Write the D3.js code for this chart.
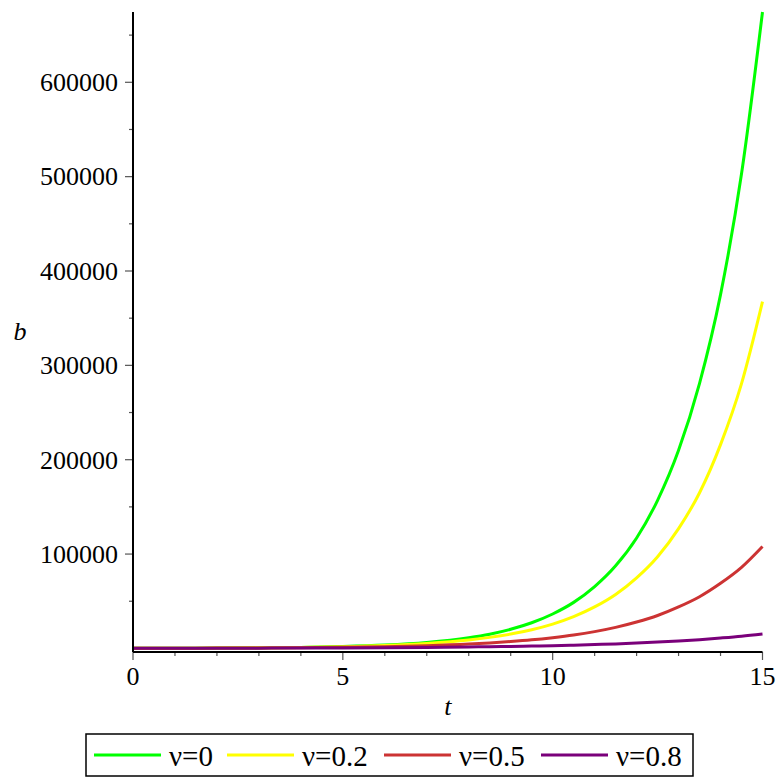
<!DOCTYPE html>
<html>
<head>
<meta charset="utf-8">
<script src="https://cdn.jsdelivr.net/npm/d3@7"></script>
<style>
  html, body { margin: 0; padding: 0; background: #ffffff; }
  svg { display: block; }
</style>
</head>
<body>
<svg id="chart" width="779" height="778"></svg>
<script>
// Time grid (t) shared by all curves; finer near the steep end
const tValues = [0, 1, 2, 3, 4, 5, 6, 7, 8, 8.5, 9, 9.5, 10, 10.5, 11, 11.5, 12, 12.5, 13, 13.5, 14, 14.5, 15];

// b(t) for each value of ν
const bNu0  = [100, 190, 340, 600, 1080, 1950, 3500, 6300, 11300, 15100, 20300, 27200, 36500, 48800, 65500, 87500, 117000, 157000, 210000, 281000, 375000, 503000, 674500];
const bNu02 = [130, 220, 375, 635, 1080, 1830, 3100, 5300, 8950, 11700, 15200, 19800, 25800, 33700, 44000, 57200, 74800, 97200, 127000, 165000, 216000, 280600, 367500];
const bNu05 = [125, 200, 310, 485, 760, 1200, 1880, 2950, 4600, 5770, 7250, 9060, 11400, 14200, 17800, 22300, 28000, 34900, 44000, 54800, 69000, 85900, 108000];
const bNu08 = [110, 150, 210, 290, 405, 565, 785, 1090, 1520, 1780, 2110, 2480, 2940, 3450, 4090, 4800, 5690, 6680, 7900, 9300, 11000, 12900, 15300];

const seriesLabels = ["ν=0", "ν=0.2", "ν=0.5", "ν=0.8"];
const seriesColors = ["#00ff00", "#ffff00", "#cc3333", "#7a007a"];
const seriesValues = [bNu0, bNu02, bNu05, bNu08];

// Axis ticks
const xMajorTicks = [0, 5, 10, 15];
const xMinorTicks = [1, 2, 3, 4, 6, 7, 8, 9, 11, 12, 13, 14];
const yMajorTicks = [100000, 200000, 300000, 400000, 500000, 600000];
const yMinorTicks = [50000, 150000, 250000, 350000, 450000, 550000, 650000];

const FONT = '"Liberation Serif", serif';
const svg = d3.select("#chart");
const fontSize = 26;

const x = d3.scaleLinear().domain([0, 15]).range([133, 762.5]);
const y = d3.scaleLinear().domain([-3800, 674500]).range([652, 12]);

// Tick marks and labels
const tickColor = "#555";
const gTicks = svg.append("g");

gTicks.selectAll("line.ymaj").data(yMajorTicks).join("line")
  .attr("x1", x(0) - 8).attr("x2", x(0))
  .attr("y1", d => y(d)).attr("y2", d => y(d))
  .attr("stroke", tickColor).attr("stroke-width", 1.2);
gTicks.selectAll("line.ymin").data(yMinorTicks).join("line")
  .attr("x1", x(0) - 4).attr("x2", x(0))
  .attr("y1", d => y(d)).attr("y2", d => y(d))
  .attr("stroke", tickColor).attr("stroke-width", 1.2);
gTicks.selectAll("line.xmaj").data(xMajorTicks).join("line")
  .attr("x1", d => x(d)).attr("x2", d => x(d))
  .attr("y1", 652).attr("y2", 660)
  .attr("stroke", tickColor).attr("stroke-width", 1.2);
gTicks.selectAll("line.xmin").data(xMinorTicks).join("line")
  .attr("x1", d => x(d)).attr("x2", d => x(d))
  .attr("y1", 652).attr("y2", 656)
  .attr("stroke", tickColor).attr("stroke-width", 1.2);

gTicks.selectAll("text.ylab").data(yMajorTicks).join("text")
  .attr("x", 118).attr("y", d => y(d))
  .attr("dy", "0.34em")
  .attr("text-anchor", "end")
  .attr("font-size", fontSize)
  .style("font-family", FONT)
  .text(d => d3.format("d")(d));

gTicks.selectAll("text.xlab").data(xMajorTicks).join("text")
  .attr("x", d => x(d)).attr("y", 685)
  .attr("text-anchor", "middle")
  .attr("font-size", fontSize)
  .style("font-family", FONT)
  .text(d => d);

// Curves
const line = d3.line()
  .x((d, i) => x(tValues[i]))
  .y(d => y(d))
  .curve(d3.curveMonotoneX);

svg.append("g").selectAll("path").data(seriesValues).join("path")
  .attr("d", d => line(d))
  .attr("fill", "none")
  .attr("stroke", (d, i) => seriesColors[i])
  .attr("stroke-width", 3);

// Axes lines
svg.append("line").attr("x1", x(0)).attr("x2", x(0)).attr("y1", 12).attr("y2", 652)
  .attr("stroke", "#000").attr("stroke-width", 2);
svg.append("line").attr("x1", x(0)).attr("x2", x(15)).attr("y1", 652).attr("y2", 652)
  .attr("stroke", "#000").attr("stroke-width", 2);

// Axis titles
svg.append("text").attr("x", 20).attr("y", 340).attr("text-anchor", "middle")
  .attr("font-size", fontSize).attr("font-style", "italic").style("font-family", FONT).text("b");
svg.append("text").attr("x", (x(0) + x(15)) / 2).attr("y", 715).attr("text-anchor", "middle")
  .attr("font-size", fontSize).attr("font-style", "italic").style("font-family", FONT).text("t");

// Legend
const legend = svg.append("g");
const legTop = 734, legBottom = 776, legMid = 755;
const legFont = 29;
const legItemX = [94, 227, 384, 541];
seriesLabels.forEach((lab, i) => {
  legend.append("line")
    .attr("x1", legItemX[i]).attr("x2", legItemX[i] + 67)
    .attr("y1", legMid).attr("y2", legMid)
    .attr("stroke", seriesColors[i]).attr("stroke-width", 3);
  legend.append("text")
    .attr("x", legItemX[i] + 75).attr("y", 766)
    .attr("font-size", legFont)
    .style("font-family", FONT)
    .text(lab);
});
legend.insert("rect", ":first-child")
  .attr("x", 86).attr("y", legTop)
  .attr("width", 693 - 86).attr("height", legBottom - legTop)
  .attr("fill", "none").attr("stroke", "#000").attr("stroke-width", 1.5);
</script>
</body>
</html>
